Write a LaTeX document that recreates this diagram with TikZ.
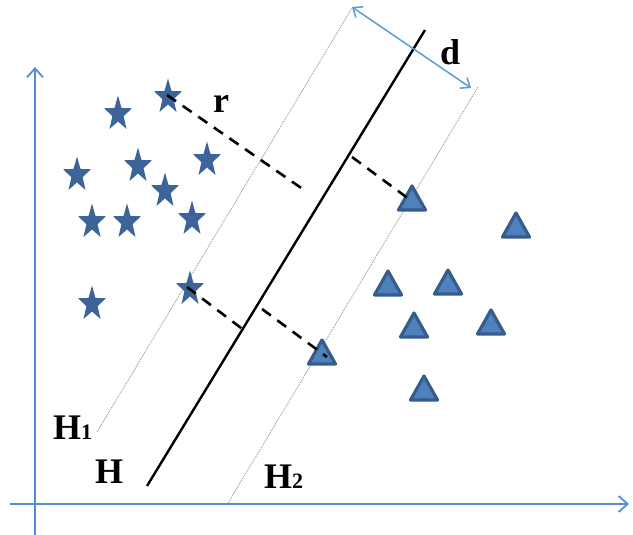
\documentclass[tikz,border=0pt]{standalone}
\usepackage{fontspec}
\setmainfont{Liberation Serif}
\usetikzlibrary{arrows.meta}
\definecolor{axisblue}{RGB}{84,141,212}
\definecolor{dblue}{RGB}{91,155,213}
\definecolor{starblue}{RGB}{60,100,152}
\definecolor{trifill}{RGB}{79,129,189}
\definecolor{triedge}{RGB}{54,92,140}
\tikzset{
 axisline/.style={draw=axisblue, line width=1.8pt, -{Straight Barb[length=9pt,width=16pt,line width=1.8pt]}},
 hyper/.style={draw=black, line width=2.4pt},
 margin/.style={draw=gray!80, line width=0.9pt, dash pattern=on 1pt off 1pt},
 distline/.style={draw=black, line width=2.6pt, dash pattern=on 11pt off 8pt},
 darrow/.style={draw=dblue, line width=1.5pt, {Straight Barb[length=8pt,width=13pt]}-{Straight Barb[length=8pt,width=13pt]}},
 lbl/.style={font=\fontsize{36}{36}\selectfont\bfseries, inner sep=0pt, anchor=base west},
 pics/bstar/.style={code={\fill[starblue] (-90:14.5 and 18.5) -- (-54:5.9 and 7.5) -- (-18:14.5 and 18.5) -- (18:5.9 and 7.5) -- (54:14.5 and 18.5) -- (90:5.9 and 7.5) -- (126:14.5 and 18.5) -- (162:5.9 and 7.5) -- (198:14.5 and 18.5) -- (234:5.9 and 7.5) -- cycle;}},
 pics/btri/.style={code={\filldraw[fill=trifill, draw=triedge, line width=3.2pt, line join=round] (-13.5,12) -- (0,-12) -- (13.5,12) -- cycle;}},
}
\newcommand\sub[1]{{\fontsize{22}{22}\selectfont #1}}
\begin{document}
\begin{tikzpicture}[x=1pt,y=-1pt]
\useasboundingbox (0,0) rectangle (633,535);
% axes
\coordinate (yb) at (35,535);
\coordinate (yt) at (35,67);
\coordinate (xl) at (10,504);
\coordinate (xr) at (629,504);
\draw[axisline] (yb) -- (yt);
\draw[axisline] (xl) -- (xr);
% hyperplanes
\coordinate (h1t) at (352,8);
\coordinate (h1b) at (97,432);
\coordinate (h2t) at (478,87);
\coordinate (h2b) at (228,503);
\coordinate (ht) at (425,30);
\coordinate (hb) at (147,486);
\draw[margin] (h1b) -- (h1t);
\draw[margin] (h2b) -- (h2t);
\draw[hyper] (hb) -- (ht);
% stars
\foreach \n/\x/\y in {s1/118/114, s2/168/97, s3/138/166, s4/207/160, s5/77/175, s6/165/191, s7/92/222, s8/127/222, s9/192/219, s10/92/304, s11/190/289}{
  \coordinate (\n) at (\x,\y);
  \pic at (\n) {bstar};
}
% triangles
\foreach \n/\x/\y in {t1/412/198, t2/516/225, t3/388/283, t4/448/282, t5/414/325, t6/491/322, t7/424/388, t8/322/352}{
  \coordinate (\n) at (\x,\y);
  \pic at (\n) {btri};
}
% distance lines
\coordinate (d1a) at (167,95);
\coordinate (d1b) at (307,192);
\coordinate (d2a) at (352,157);
\coordinate (d2b) at (413,202);
\coordinate (d3a) at (187,287);
\coordinate (d3b) at (245,331);
\coordinate (d4a) at (262,309);
\coordinate (d4b) at (327,357);
\draw[distline] (d1a) -- (d1b);
\draw[distline] (d2a) -- (d2b);
\draw[distline] (d3a) -- (d3b);
\draw[distline] (d4a) -- (d4b);
% margin width arrow
\coordinate (da) at (352,7);
\coordinate (db) at (471,88);
\draw[darrow] (da) -- (db);
% labels
\node[lbl] (ld) at (440,65) {d};
\node[lbl] (lr) at (213,113) {r};
\node[lbl] (lh1) at (53,439) {H\sub{1}};
\node[lbl] (lh) at (95,483) {H};
\node[lbl] (lh2) at (264,488) {H\sub{2}};
\end{tikzpicture}
\end{document}
